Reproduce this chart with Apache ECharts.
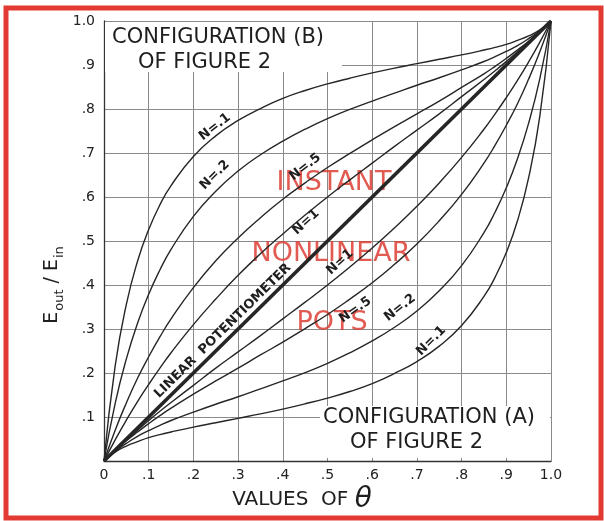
<!DOCTYPE html>
<html><head><meta charset="utf-8">
<script src="https://cdn.jsdelivr.net/npm/echarts@6/dist/echarts.min.js"></script>
<style>html,body{margin:0;padding:0;background:#fff}#c{width:604px;height:521px}</style>
</head><body><div id="c"></div>
<script>
// ---- data ----
const theta = [0, .025, .05, .075, .1, .125, .15, .2, .25, .3, .35, .4, .45, .5, .55, .6, .65, .7, .75, .8, .85, .875, .9, .925, .95, .975, 1];
// Configuration (A): curves below the diagonal
const configA_N01 = [0, .020, .034, .044, .053, .060, .066, .077, .087, .097, .107, .118, .130, .143, .158, .176, .199, .226, .261, .308, .374, .418, .474, .546, .644, .784, 1];
const configA_N02 = [0, .022, .040, .056, .069, .081, .092, .111, .129, .146, .164, .182, .201, .222, .246, .273, .304, .341, .387, .444, .519, .566, .621, .687, .768, .869, 1];
const configA_N05 = [0, .024, .046, .066, .085, .103, .120, .152, .182, .211, .241, .270, .301, .333, .368, .405, .447, .493, .546, .606, .677, .718, .763, .812, .868, .930, 1];
const configA_N1  = [0, .024, .048, .070, .092, .113, .133, .172, .211, .248, .285, .323, .361, .400, .441, .484, .530, .579, .632, .690, .754, .789, .826, .865, .907, .952, 1];
// Configuration (B): curves above the diagonal
const configB_N01 = [0, .216, .356, .454, .526, .582, .626, .692, .739, .774, .801, .824, .842, .857, .870, .882, .893, .903, .913, .923, .934, .940, .947, .956, .966, .980, 1];
const configB_N02 = [0, .131, .232, .313, .379, .434, .481, .556, .613, .659, .696, .727, .754, .778, .799, .818, .836, .854, .871, .889, .908, .919, .931, .944, .960, .978, 1];
const configB_N05 = [0, .070, .132, .188, .237, .282, .323, .394, .455, .507, .553, .595, .632, .667, .699, .730, .760, .789, .818, .849, .880, .897, .915, .934, .954, .976, 1];
const configB_N1  = [0, .048, .093, .135, .174, .211, .246, .310, .368, .422, .471, .516, .559, .600, .639, .677, .715, .752, .789, .828, .867, .887, .908, .930, .952, .976, 1];
// Linear potentiometer
const linearX = [0, 1];
const linearY = [0, 1];
// tick labels
const xTickLabels = ['0', '.1', '.2', '.3', '.4', '.5', '.6', '.7', '.8', '.9', '1.0'];
const yTickLabels = ['', '.1', '.2', '.3', '.4', '.5', '.6', '.7', '.8', '.9', '1.0'];
// curve label texts
const curveLabelTexts = ['N=.1', 'N=.2', 'N=.5', 'N=1', 'LINEAR  POTENTIOMETER', 'N=1', 'N=.5', 'N=.2', 'N=.1'];

// ---- chart ----
const FONT = '"DejaVu Sans", "Liberation Sans", sans-serif';
const INK = '#1e1e1e';
const chart = echarts.init(document.getElementById('c'), null, {renderer: 'canvas'});

function curve(name, xs, ys, width) {
  return {
    type: 'line', name: name,
    data: xs.map((t, i) => [t, ys[i]]),
    smooth: 0.5,
    symbol: 'none', silent: true,
    lineStyle: {color: '#262626', width: width}
  };
}

const axisCommon = {
  type: 'value', min: 0, max: 1, interval: 0.1,
  axisLine: {show: true, lineStyle: {color: '#333', width: 1.3}},
  axisTick: {show: false},
  splitLine: {show: true, lineStyle: {color: '#8a8a8a', width: 1}}
};

chart.setOption({
  animation: false,
  backgroundColor: '#fff',
  grid: {left: 104, right: 53, top: 21, bottom: 60},
  xAxis: Object.assign({}, axisCommon, {
    axisLabel: {formatter: v => xTickLabels[Math.round(v * 10)], color: '#222', fontSize: 14, fontFamily: FONT, margin: 7}
  }),
  yAxis: Object.assign({}, axisCommon, {
    axisLabel: {formatter: v => yTickLabels[Math.round(v * 10)], color: '#222', fontSize: 14, fontFamily: FONT, margin: 9}
  }),
  series: [
    curve('A N=.1', theta, configA_N01, 1.4),
    curve('A N=.2', theta, configA_N02, 1.4),
    curve('A N=.5', theta, configA_N05, 1.4),
    curve('A N=1', theta, configA_N1, 1.4),
    curve('B N=.1', theta, configB_N01, 1.4),
    curve('B N=.2', theta, configB_N02, 1.4),
    curve('B N=.5', theta, configB_N05, 1.4),
    curve('B N=1', theta, configB_N1, 1.4),
    curve('Linear', linearX, linearY, 3.6)
  ]
});

// label anchors (data coordinates) and rotation in degrees
const labelPlacement = [
  [0.248, 0.759, 38], [0.248, 0.650, 45], [0.450, 0.668, 38], [0.452, 0.543, 42],
  [0.266, 0.296, 44.5],
  [0.528, 0.452, 42], [0.562, 0.343, 35], [0.662, 0.348, 38], [0.732, 0.273, 45]
];

const g = [];
function txt(x, y, text, font, opts) {
  return Object.assign({
    type: 'text', x: x, y: y, z: 50,
    style: Object.assign({text: text, font: font, fill: INK, textAlign: 'center', textVerticalAlign: 'middle', align: 'center', verticalAlign: 'middle'}, (opts && opts.style) || {})
  }, (opts && opts.el) || {});
}
// white patches behind the configuration notes
g.push({type: 'rect', z: 1, shape: {x: 105, y: 22, width: 237, height: 50}, style: {fill: '#fff'}});
g.push({type: 'rect', z: 1, shape: {x: 320, y: 406, width: 230, height: 52}, style: {fill: '#fff'}});
g.push(txt(112, 38, 'CONFIGURATION (B)', '21px ' + FONT, {style: {textAlign: 'left', align: 'left'}}));
g.push(txt(138, 63, 'OF FIGURE 2', '21px ' + FONT, {style: {textAlign: 'left', align: 'left'}}));
g.push(txt(323, 418, 'CONFIGURATION (A)', '21px ' + FONT, {style: {textAlign: 'left', align: 'left'}}));
g.push(txt(350, 443, 'OF FIGURE 2', '21px ' + FONT, {style: {textAlign: 'left', align: 'left'}}));
// red overlay
const red = {style: {fill: 'rgba(220,62,52,0.85)'}, el: {z: 1}};
g.push(txt(334, 183, 'INSTANT', '27px ' + FONT, red));
g.push(txt(331, 254, 'NONLINEAR', '27px ' + FONT, red));
g.push(txt(332, 323, 'POTS', '27px ' + FONT, red));
// curve labels
labelPlacement.forEach((p, i) => {
  const px = chart.convertToPixel({gridIndex: 0}, [p[0], p[1]]);
  g.push(txt(px[0], px[1], curveLabelTexts[i], 'bold 13px ' + FONT, {el: {rotation: p[2] * Math.PI / 180, z: 60}}));
});
// axis titles
g.push({
  type: 'text', x: 50, y: 285, z: 50, rotation: Math.PI / 2,
  style: {
    text: '{e|E}{s|out}{e| / E}{s|in}', align: 'center', verticalAlign: 'middle', textAlign: 'center', textVerticalAlign: 'middle', fill: INK,
    rich: {
      e: {fontSize: 19, fontFamily: FONT, fill: INK, verticalAlign: 'bottom', lineHeight: 24},
      s: {fontSize: 13, fontFamily: FONT, fill: INK, verticalAlign: 'bottom', lineHeight: 16, padding: [0, 0, -4, 1]}
    }
  }
});
g.push({
  type: 'text', x: 302, y: 500, z: 50,
  style: {
    text: '{a|VALUES  OF }{t|θ}', align: 'center', verticalAlign: 'middle', textAlign: 'center', textVerticalAlign: 'middle', fill: INK,
    rich: {
      a: {fontSize: 20, fontFamily: FONT, fill: INK},
      t: {fontSize: 28, fontFamily: FONT, fontStyle: 'italic', fill: INK}
    }
  }
});
// scanned red frame
g.push({type: 'rect', z: 200, shape: {x: 6, y: 8, width: 595, height: 510}, style: {fill: 'none', stroke: '#e23a33', lineWidth: 5}});

chart.setOption({graphic: {elements: g}});
</script></body></html>
